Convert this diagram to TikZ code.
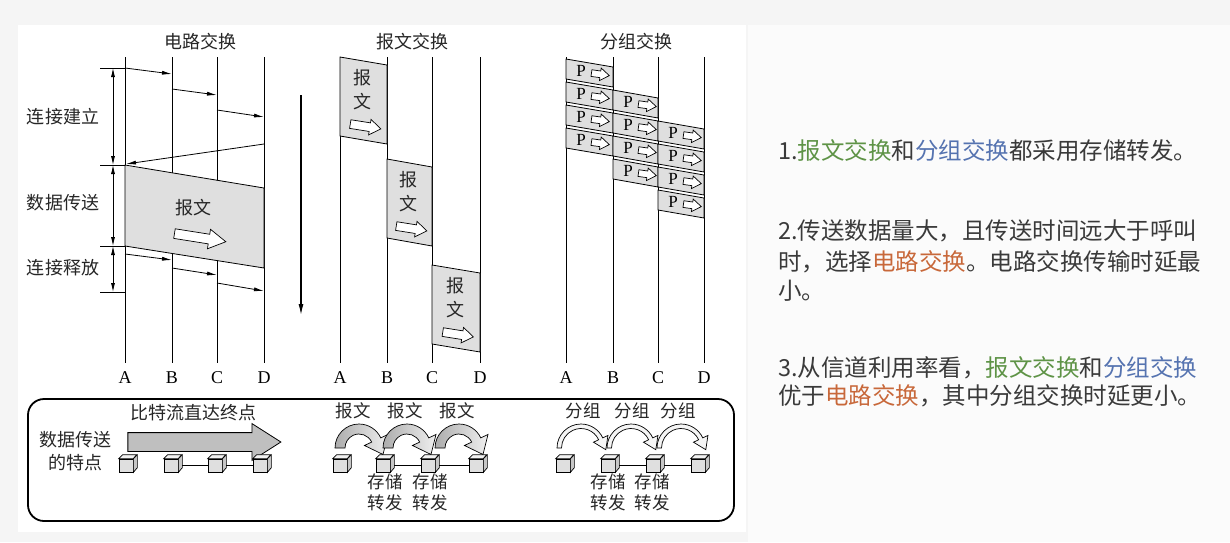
\documentclass[tikz,border=0pt]{standalone}
\usepackage{fontspec}
\setmainfont{Liberation Serif}
\newfontfamily\cjk{Noto Sans CJK SC}
\usetikzlibrary{arrows.meta,shapes.arrows}
\definecolor{msgcol}{HTML}{5E9346}
\definecolor{pktcol}{HTML}{5573B0}
\definecolor{circol}{HTML}{C8683A}
\definecolor{txtcol}{HTML}{3A3A3A}
\tikzset{
  lbl/.style={font=\cjk\fontsize{18}{20}\selectfont, text=black!85, inner sep=0pt},
  small/.style={font=\cjk\fontsize{17.5}{21}\selectfont, text=black!85, inner sep=0pt, align=center},
  abcd/.style={font=\fontsize{18}{20}\selectfont, inner sep=0pt},
  pfont/.style={font=\fontsize{17}{18}\selectfont, inner sep=0pt},
  tip/.style={-{Latex[length=10pt,width=4pt]}},
  dimarr/.style={{Latex[length=9pt,width=4pt]}-{Latex[length=9pt,width=4pt]}},
  hollow/.style={single arrow, draw=black, fill=white, line width=0.7pt, inner xsep=0pt, single arrow tip angle=70},
  cubebox/.style={draw, fill=gray!25, minimum width=14pt, minimum height=13pt, inner sep=0pt, line width=0.7pt},
  note/.style={font=\cjk\fontsize{23.5}{28}\selectfont, text=txtcol, anchor=base west, inner sep=0pt},
}
\begin{document}
\begin{tikzpicture}[x=1pt, y=-1pt, line width=0.8pt]
\useasboundingbox (0,0) rectangle (1230,542);
\fill[gray!8] (0,0) rectangle (1230,542);
\fill[gray!3] (748,25) rectangle (1230,542);
\fill[white] (18,25) rectangle (746,532);

% titles
\node[lbl] (tcs) at (200,42) {电路交换};
\node[lbl] (tms) at (412,42) {报文交换};
\node[lbl] (tps) at (636,42) {分组交换};

% time lines
\foreach \s/\xa/\xb/\xc/\xd in {c/125/172/217/264, m/340/387/432/480, p/566/613/658/704} {
  \foreach \n/\x in {A/\xa, B/\xb, C/\xc, D/\xd} {
    \node[abcd] (\s\n) at (\x,378) {\n};
    \draw ([yshift=9pt]\s\n.north) -- (\x,57);
  }
}

% circuit switching
\draw[fill=gray!25] (125,165) -- (264,188) -- (264,268) -- (125,246) -- cycle;
\draw[tip] (125,68) -- (172,74);
\draw[tip] (172,89) -- (217,95);
\draw[tip] (217,110) -- (264,117);
\draw[tip] (264,144) -- (126,164);
\draw[tip] (125,254) -- (172,260);
\draw[tip] (172,268) -- (217,275);
\draw[tip] (217,283) -- (264,291);
\foreach \y in {68,165,246,292} {\draw (100,\y) -- (125,\y);}
\draw[dimarr] (113,68) -- (113,165);
\draw[dimarr] (113,165) -- (113,246);
\draw[dimarr] (113,246) -- (113,292);
\node[lbl] (setup) at (63,117) {连接建立};
\node[lbl] (trans) at (63,203) {数据传送};
\node[lbl] (release) at (63,268) {连接释放};
\node[lbl] (cmsg) at (193,208) {报文};
\node[hollow, minimum height=52pt, minimum width=19pt, inner ysep=4.5pt, single arrow head extend=5pt, single arrow tip angle=60, rotate=-9] (carr) at (196,237) {};

% time axis
\draw[line width=1.2pt, -{Latex[length=11pt,width=5pt]}] (301,95) -- (301,315);

% message switching
\foreach \xl/\xr/\yt [count=\i] in {340/387/57, 387/432/159, 432/480/265} {
  \draw[fill=gray!25] (\xl,\yt) -- (\xr,\yt+8) -- (\xr,\yt+87) -- (\xl,\yt+79) -- cycle;
  \node[lbl] (mbao\i) at ({(\xl+\xr)/2-1},\yt+21) {报};
  \node[lbl] (mwen\i) at ({(\xl+\xr)/2-1},\yt+45) {文};
  \node[hollow, minimum height=31pt, minimum width=15pt, inner ysep=4pt, single arrow head extend=3.5pt, rotate=-9] (marr\i) at ({(\xl+\xr)/2-1},\yt+69) {};
}

% packet switching
\foreach \h/\xl/\xr in {0/566/613, 1/613/658, 2/658/704} {
  \foreach \i in {0,...,3} {
    \pgfmathsetmacro\yt{59+31*\h+23*\i}
    \draw[fill=gray!25] (\xl,\yt) -- (\xr,\yt+8) -- (\xr,\yt+28) -- (\xl,\yt+20) -- cycle;
    \node[pfont] (p\h\i) at (\xl+15,\yt+12) {P};
    \node[hollow, minimum height=18pt, minimum width=12pt, inner ysep=3pt, single arrow head extend=3pt, rotate=-8] (pa\h\i) at (\xl+32,\yt+15) {};
  }
}

% features box
\draw[line width=1.8pt, rounded corners=16pt] (28,399) rectangle (734,521);
\node[lbl] (feat1) at (75,440) {数据传送};
\node[lbl] (feat2) at (75,463) {的特点};
\node[single arrow, draw, fill=gray!50, minimum height=153pt, minimum width=36pt, inner xsep=0pt, inner ysep=9pt, single arrow head extend=9pt, single arrow tip angle=65] (bitarr) at (197,442) {};
\node[lbl] (bitlbl) at (193,413) {比特流直达终点};

% cubes
\foreach \n/\x in {d1/126, d2/171, d3/215, d4/260, m1/340, m2/383, m3/428, m4/476, q1/563, q2/608, q3/653, q4/698} {
  \node[cubebox] (\n) at (\x,465.5) {};
  \draw[fill=gray!10, line width=0.7pt] (\n.north west) -- ++(4,-4) -- ++(14,0) -- (\n.north east) -- cycle;
  \draw[fill=gray!45, line width=0.7pt] (\n.north east) -- ++(4,-4) -- ++(0,13) -- (\n.south east) -- cycle;
}
\foreach \g in {d,m,q} {
  \draw[line width=0.7pt, shorten <=4pt] (\g2.east) -- (\g3.west);
  \draw[line width=0.7pt, shorten <=4pt] (\g3.east) -- (\g4.west);
}

% store and forward
\foreach \c in {359, 407, 459} {
  \begin{scope}[shift={(\c,448)}]
    \draw[line width=0.7pt, left color=gray!65, right color=gray!12]
      (180:24pt) arc[start angle=180, end angle=25, radius=24pt] -- (25:32pt) -- (-15.1:24.84pt)
      -- (25:6pt) -- (25:14pt) arc[start angle=25, end angle=180, radius=14pt] -- cycle;
  \end{scope}
}
\foreach \c in {581, 631, 681} {
  \begin{scope}[shift={(\c,448)}]
    \draw[line width=0.7pt, fill=gray!8]
      (180:24pt) arc[start angle=180, end angle=25, radius=24pt] -- (25:29.75pt) -- (-3.9:24.84pt)
      -- (25:13.75pt) -- (25:19.5pt) arc[start angle=25, end angle=180, radius=19.5pt] -- cycle;
  \end{scope}
}
\foreach \x [count=\i] in {353,405,457} {\node[small] (mlbl\i) at (\x,411) {报文};}
\foreach \x [count=\i] in {583,632,678} {\node[small] (plbl\i) at (\x,411) {分组};}
\foreach \x [count=\i] in {385,430,608,652} {\node[small] (sf\i) at (\x,492) {存储\\转发};}

% notes
\node[note] (pt1) at (778,159) {1.\textcolor{msgcol}{报文交换}和\textcolor{pktcol}{分组交换}都采用存储转发。};
\node[note] (pt2a) at (778,239) {2.传送数据量大，且传送时间远大于呼叫};
\node[note] (pt2b) at (778,270) {时，选择\textcolor{circol}{电路交换}。电路交换传输时延最};
\node[note] (pt2c) at (778,299) {小。};
\node[note] (pt3a) at (778,376) {3.从信道利用率看，\textcolor{msgcol}{报文交换}和\textcolor{pktcol}{分组交换}};
\node[note] (pt3b) at (778,404) {优于\textcolor{circol}{电路交换}，其中分组交换时延更小。};
\end{tikzpicture}
\end{document}
